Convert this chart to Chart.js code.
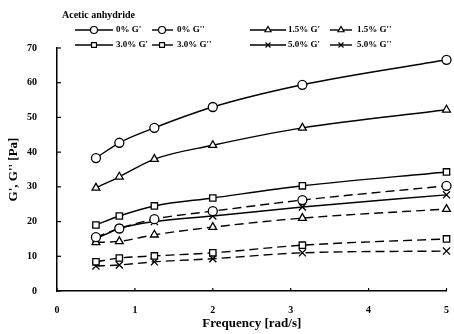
<!DOCTYPE html>
<html>
<head>
<meta charset="utf-8">
<script src="https://cdn.jsdelivr.net/npm/chart.js@4/dist/chart.umd.min.js"></script>
<style>
  html, body { margin: 0; padding: 0; background: #fff; }
  #wrap { width: 454px; height: 334px; }
</style>
</head>
<body>
<div id="wrap"><canvas id="rheo" width="454" height="334"></canvas></div>
<script>
// frequenze e moduli
const freq = [0.5, 0.8, 1.25, 2, 3.15, 5];

const g1_0 = [38.3, 42.7, 47, 53, 59.4, 66.6];
const g2_0 = [15.5, 18, 20.7, 23, 26.2, 30.3];
const g1_15 = [29.7, 32.9, 38, 42, 47, 52.2];
const g2_15 = [14, 14.3, 16.2, 18.4, 21, 23.6];
const g1_30 = [19, 21.6, 24.5, 26.8, 30.3, 34.3];
const g2_30 = [8.4, 9.5, 10.1, 11, 13.2, 15];
const g1_50 = [15, 18, 20, 21.6, 24.2, 27.7];
const g2_50 = [7.2, 7.5, 8.4, 9.3, 11, 11.5];

const labels = ["0% G'", "0% G''", "1.5% G'", "1.5% G''", "3.0% G'", "3.0% G''", "5.0% G'", "5.0% G''"];
const xTicks = [0, 1, 2, 3, 4, 5];
const yTicks = [0, 10, 20, 30, 40, 50, 60, 70];

const FONT = "'Liberation Serif', 'DejaVu Serif', serif";

function serie(label, values, style, dashed) {
  return {
    label: label,
    data: freq.map((f, i) => ({ x: f, y: values[i] })),
    borderColor: '#000',
    borderWidth: 1.4,
    borderDash: dashed ? [9, 5] : [],
    backgroundColor: '#fff',
    pointStyle: style,
    pointRadius: style === 'crossRot' ? 5 : 4.5,
    pointBorderColor: '#000',
    pointBackgroundColor: '#fff',
    pointBorderWidth: 1.3,
    cubicInterpolationMode: 'monotone',
    fill: false,
    clip: false,
  };
}

// legenda disegnata a mano: linea + marker + testo
const legendPos = [
  { l: 75, r: 113, m: 94, t: 116 },
  { l: 152, r: 173, m: 162, t: 177 },
  { l: 250, r: 286, m: 268, t: 288 },
  { l: 330, r: 352, m: 341, t: 357 },
];
const legendRows = [30, 45];

const customLegend = {
  id: 'customLegend',
  afterDraw(chart) {
    const ctx = chart.ctx;
    ctx.save();
    ctx.fillStyle = '#000';
    ctx.font = 'bold 10px ' + FONT;
    ctx.textBaseline = 'middle';
    ctx.fillText('Acetic anhydride', 62, 15);

    chart.data.datasets.forEach((ds, i) => {
      const p = legendPos[i % 4];
      const y = legendRows[Math.floor(i / 4)];
      ctx.strokeStyle = '#000';
      ctx.lineWidth = 1.4;
      ctx.setLineDash([]);
      ctx.beginPath();
      ctx.moveTo(p.l, y);
      ctx.lineTo(p.r, y);
      ctx.stroke();
      ctx.fillStyle = '#fff';
      ctx.lineWidth = 1.2;
      Chart.helpers.drawPoint(ctx, { pointStyle: ds.pointStyle, radius: 3.5, rotation: 0, borderWidth: 1.2 }, p.m, y);
      ctx.fillStyle = '#000';
      ctx.font = 'bold 9px ' + FONT;
      ctx.fillText(ds.label, p.t, y);
    });
    ctx.restore();
  }
};

// tacche verso l'interno degli assi
const innerTicks = {
  id: 'innerTicks',
  afterDraw(chart) {
    const ctx = chart.ctx;
    const xs = chart.scales.x, ys = chart.scales.y;
    ctx.save();
    ctx.strokeStyle = '#000';
    ctx.lineWidth = 1.2;
    ys.ticks.forEach(t => {
      const y = ys.getPixelForValue(t.value);
      ctx.beginPath();
      ctx.moveTo(xs.left, y);
      ctx.lineTo(xs.left + 4, y);
      ctx.stroke();
    });
    xs.ticks.forEach(t => {
      const x = xs.getPixelForValue(t.value);
      ctx.beginPath();
      ctx.moveTo(x, ys.bottom);
      ctx.lineTo(x, ys.bottom - 3);
      ctx.stroke();
    });
    ctx.restore();
  }
};

const ctxRheo = document.getElementById('rheo').getContext('2d');

const rheoChart = new Chart(ctxRheo, {
  type: 'line',
  data: {
    datasets: [
      serie(labels[0], g1_0, 'circle', false),
      serie(labels[1], g2_0, 'circle', true),
      serie(labels[2], g1_15, 'triangle', false),
      serie(labels[3], g2_15, 'triangle', true),
      serie(labels[4], g1_30, 'rect', false),
      serie(labels[5], g2_30, 'rect', true),
      serie(labels[6], g1_50, 'crossRot', false),
      serie(labels[7], g2_50, 'crossRot', true),
    ]
  },
  options: {
    responsive: false,
    animation: false,
    layout: { padding: { left: 6, top: 48, right: 5, bottom: 3 } },
    plugins: {
      legend: { display: false },
      tooltip: { enabled: false },
    },
    scales: {
      x: {
        type: 'linear',
        min: 0,
        max: 5,
        afterBuildTicks: (axis) => { axis.ticks = xTicks.map(v => ({ value: v })); },
        afterFit: (axis) => { axis.height = 40; },
        grid: { display: false },
        border: { display: true, color: '#000', width: 1.5 },
        ticks: { color: '#000', padding: 5, font: { family: FONT, size: 10, weight: 'bold' } },
        title: {
          display: true,
          text: 'Frequency [rad/s]',
          color: '#000',
          padding: { top: 0, bottom: 0 },
          font: { family: FONT, size: 13, weight: 'bold' },
        },
      },
      y: {
        type: 'linear',
        min: 0,
        max: 70,
        afterBuildTicks: (axis) => { axis.ticks = yTicks.map(v => ({ value: v })); },
        afterFit: (axis) => { axis.width = 51; },
        grid: { display: false },
        border: { display: true, color: '#000', width: 1.5 },
        ticks: { color: '#000', padding: 12, font: { family: FONT, size: 10, weight: 'bold' } },
        title: {
          display: true,
          text: "G', G'' [Pa]",
          color: '#000',
          padding: { top: 0, bottom: 4 },
          font: { family: FONT, size: 13, weight: 'bold' },
        },
      },
    },
  },
  plugins: [customLegend, innerTicks],
});
</script>
</body>
</html>
